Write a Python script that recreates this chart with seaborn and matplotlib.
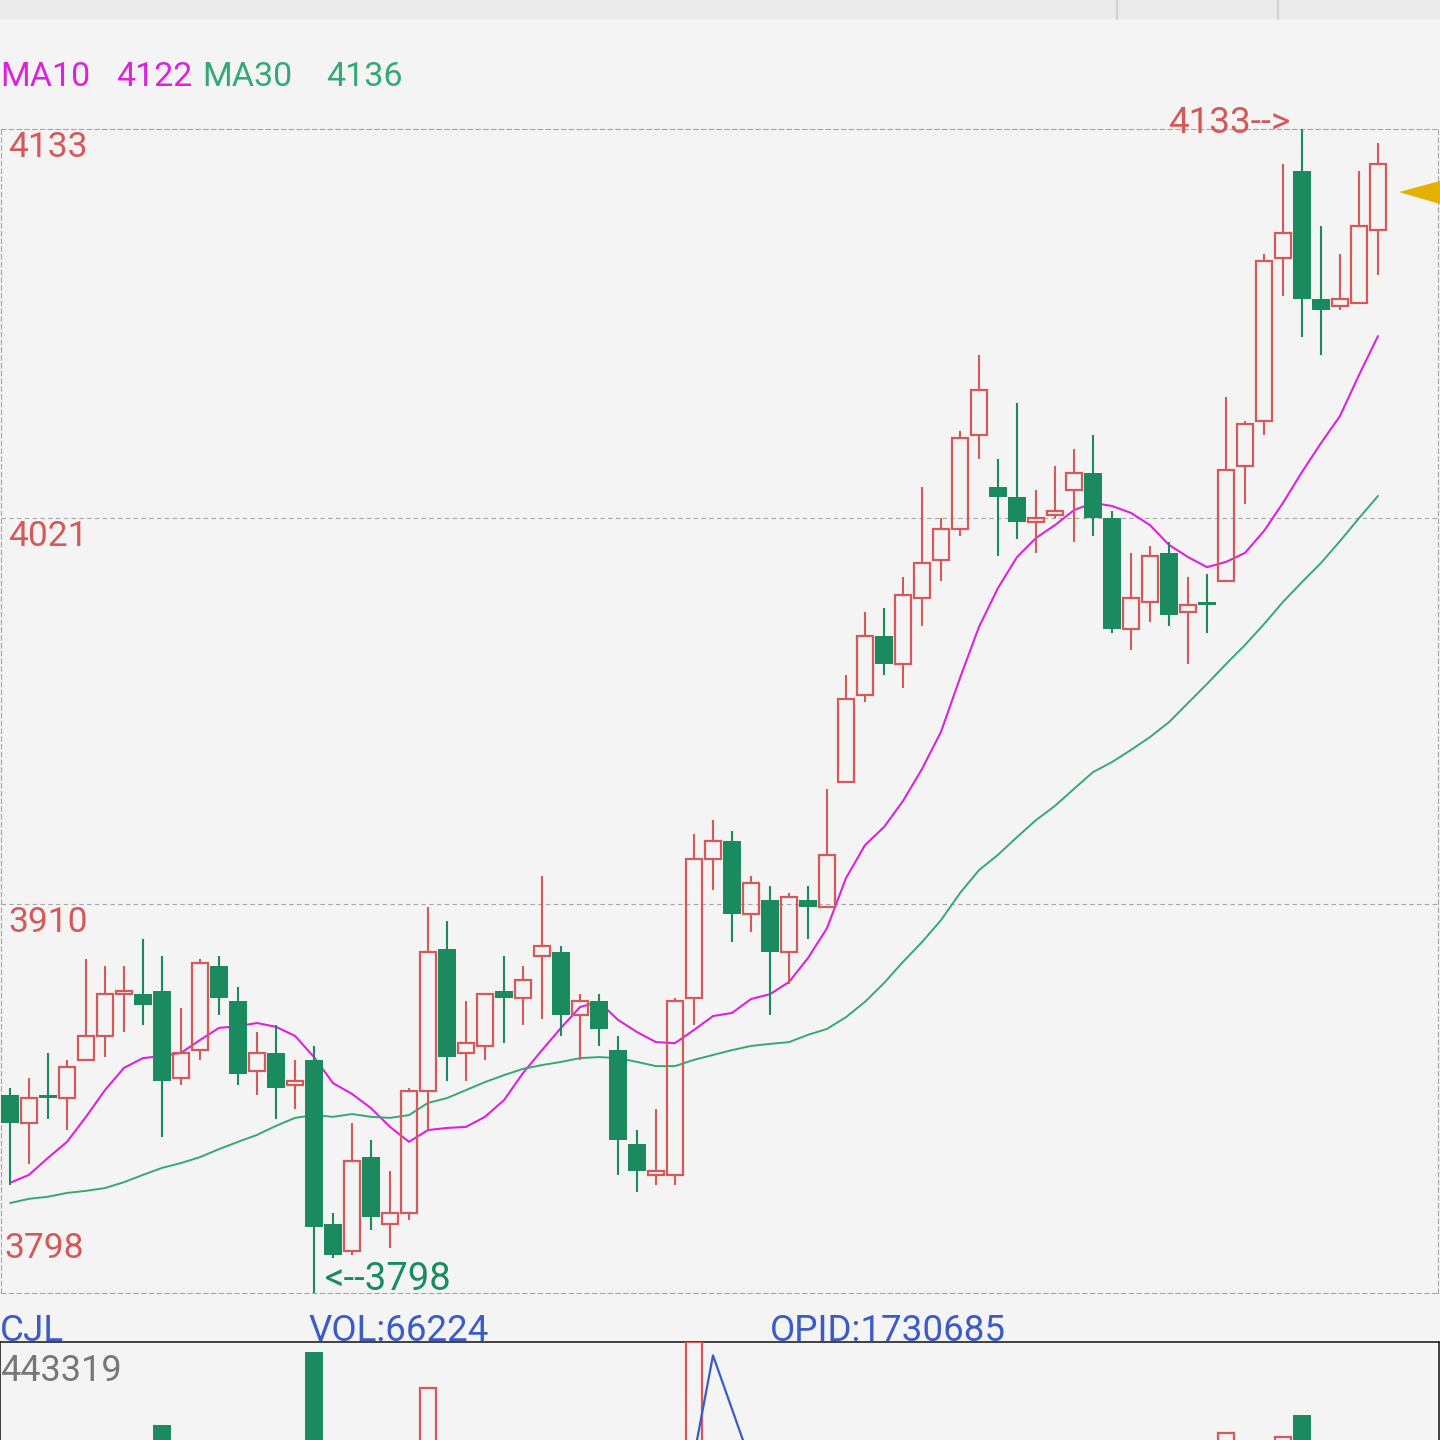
import numpy as np
import matplotlib
matplotlib.use("Agg")
import matplotlib.pyplot as plt
import seaborn as sns
from matplotlib.patches import Polygon, Rectangle
from matplotlib.lines import Line2D

# ---------------- data ----------------
opens = [3855, 3847, 3855, 3854, 3865, 3872, 3884, 3884, 3885, 3860,
         3868, 3892, 3882, 3862, 3867, 3858, 3865, 3818, 3810, 3837,
         3818, 3821, 3856, 3897, 3867, 3869, 3885, 3883, 3895, 3896,
         3878, 3882, 3868, 3841, 3832, 3832, 3883, 3923, 3928, 3907,
         3911, 3896, 3911, 3909, 3945, 3970, 3987, 3979, 3998, 4009,
         4018, 4045, 4030, 4027, 4020, 4022, 4029, 4034, 4021, 3989,
         3997, 4011, 3994, 3997, 4003, 4036, 4049, 4096, 4121, 4084,
         4082, 4083, 4104]
highs = [3857, 3860, 3867, 3865, 3894, 3892, 3892, 3900, 3895, 3880,
         3894, 3895, 3886, 3873, 3875, 3865, 3869, 3821, 3847, 3842,
         3833, 3857, 3909, 3905, 3882, 3884, 3895, 3892, 3918, 3898,
         3884, 3884, 3872, 3845, 3851, 3883, 3930, 3934, 3931, 3918,
         3915, 3913, 3915, 3943, 3976, 3994, 3995, 4004, 4030, 4021,
         4046, 4068, 4038, 4054, 4029, 4036, 4041, 4045, 4023, 4011,
         4013, 4014, 4004, 4005, 4056, 4049, 4097, 4123, 4133, 4105,
         4097, 4121, 4129]
lows = [3829, 3835, 3848, 3845, 3865, 3866, 3873, 3875, 3843, 3858,
        3865, 3878, 3858, 3855, 3848, 3851, 3798, 3808, 3809, 3816,
        3811, 3819, 3845, 3859, 3859, 3865, 3870, 3875, 3877, 3872,
        3865, 3869, 3832, 3827, 3829, 3829, 3875, 3914, 3899, 3902,
        3878, 3887, 3900, 3909, 3945, 3968, 3976, 3972, 3990, 4003,
        4016, 4038, 4010, 4015, 4011, 4021, 4014, 4016, 3988, 3983,
        3991, 3990, 3979, 3988, 4003, 4025, 4045, 4085, 4073, 4068,
        4081, 4083, 4091]
closes = [3847, 3854, 3854, 3863, 3872, 3884, 3885, 3881, 3859, 3867,
          3893, 3883, 3861, 3867, 3857, 3859, 3817, 3809, 3836, 3820,
          3821, 3856, 3896, 3866, 3870, 3884, 3883, 3888, 3898, 3878,
          3882, 3874, 3842, 3833, 3833, 3882, 3923, 3928, 3907, 3916,
          3896, 3912, 3909, 3924, 3969, 3987, 3979, 3999, 4008, 4018,
          4044, 4058, 4027, 4020, 4021, 4023, 4034, 4021, 3989, 3998,
          4010, 3993, 3996, 3996, 4035, 4048, 4095, 4103, 4084, 4081,
          4084, 4105, 4123]
ma10 = [3829.7, 3832.0, 3836.9, 3841.5, 3848.7, 3856.4, 3862.8, 3865.6, 3866.2, 3867.1,
        3870.8, 3874.3, 3874.8, 3875.7, 3874.6, 3872.0, 3865.9, 3858.4, 3855.3, 3851.2,
        3845.8, 3841.5, 3844.9, 3845.5, 3845.8, 3848.7, 3853.5, 3861.3, 3867.9, 3874.3,
        3880.3, 3881.8, 3876.6, 3873.1, 3870.2, 3869.9, 3873.7, 3877.7, 3878.6, 3882.6,
        3884.0, 3887.5, 3894.4, 3903.0, 3917.4, 3926.9, 3932.1, 3939.6, 3948.8, 3959.5,
        3975.0, 3989.7, 4000.9, 4009.8, 4015.3, 4019.0, 4023.3, 4025.4, 4024.5, 4022.5,
        4019.0, 4013.3, 4009.8, 4006.9, 4008.4, 4011.0, 4017.3, 4025.4, 4034.3, 4042.6,
        4050.4, 4062.2, 4073.4]
ma30 = [3823.9, 3825.1, 3825.7, 3826.8, 3827.4, 3828.2, 3829.9, 3832.0, 3834.0, 3835.4,
        3837.1, 3839.4, 3841.5, 3843.5, 3846.1, 3848.4, 3849.2, 3848.7, 3849.5, 3848.7,
        3848.4, 3849.2, 3852.7, 3854.1, 3856.4, 3858.7, 3860.7, 3862.5, 3863.6, 3864.5,
        3865.6, 3865.9, 3865.6, 3864.5, 3863.3, 3863.3, 3865.1, 3866.5, 3867.9, 3869.1,
        3869.7, 3870.2, 3872.3, 3874.0, 3877.4, 3881.8, 3887.2, 3893.3, 3899.0, 3905.3,
        3913.1, 3919.7, 3924.1, 3929.2, 3934.1, 3938.2, 3943.1, 3947.9, 3950.8, 3954.3,
        3958.0, 3962.3, 3967.8, 3973.3, 3979.0, 3984.5, 3990.5, 3996.9, 4002.6, 4008.1,
        4014.4, 4021.0, 4027.4]
volume = [180000, 150000, 120000, 160000, 210000, 230000, 170000, 190000, 320000, 200000,
          260000, 190000, 240000, 160000, 200000, 140000, 428000, 230000, 270000, 220000,
          180000, 250000, 375000, 280000, 170000, 190000, 160000, 150000, 210000, 200000,
          140000, 150000, 270000, 190000, 170000, 290000, 443319, 260000, 250000, 180000,
          210000, 190000, 140000, 230000, 280000, 240000, 180000, 220000, 230000, 190000,
          260000, 250000, 200000, 220000, 150000, 140000, 170000, 190000, 270000, 200000,
          190000, 210000, 170000, 150000, 308000, 240000, 290000, 302000, 335000, 230000,
          180000, 250000, 66224]
open_interest = [1702000, 1704500, 1706000, 1703000, 1708000, 1711000, 1712500, 1710000, 1715000, 1713000,
                 1716000, 1714500, 1717000, 1718500, 1716000, 1719000, 1722000, 1720500, 1719000, 1721500,
                 1723000, 1720000, 1718000, 1721000, 1722500, 1724000, 1722000, 1725000, 1726500, 1724000,
                 1722500, 1725000, 1727000, 1726000, 1724500, 1723500, 1723500, 1791000, 1755000, 1718800,
                 1720000, 1722000, 1721000, 1723500, 1725000, 1727500, 1726000, 1728500, 1730000, 1729000,
                 1731000, 1729500, 1728000, 1730500, 1732000, 1730000, 1728500, 1727000, 1729000, 1731500,
                 1730000, 1728000, 1729500, 1731000, 1732500, 1730000, 1728000, 1729000, 1731000, 1732000,
                 1730500, 1731500, 1730685]
price_ticks = [4133, 4021, 3910, 3798]
price_tick_labels = ["4133", "4021", "3910", "3798"]
legend_names = ["MA10", "MA30"]
legend_values = ["4122", "4136"]
indicator_name = "CJL"
vol_text = "VOL:66224"
oi_text = "OPID:1730685"
vol_max_text = "443319"

# ---------------- style ----------------
sns.set_theme(style="white")
plt.rcParams['font.family'] = ['Roboto', 'DejaVu Sans']

BG = "#f4f4f4"
RED = "#d45959"
GREEN = "#1b8b5f"
MAGENTA = "#dd22dd"
MA30C = "#35a875"
BLUE = "#3b5bc6"
GRID = "#a6a6a6"

W = H = 1440.0
fig = plt.figure(figsize=(14.4, 14.4), dpi=100, facecolor=BG)

def fx(px):
    return px / W

def fy(py):
    return 1 - py / H

# top strip
fig.patches.append(Rectangle((0, fy(19)), 1, 19 / H, transform=fig.transFigure,
                             facecolor="#eaeaea", edgecolor="none", zorder=0))
for vx in (1117, 1278):
    fig.lines.append(Line2D([fx(vx)] * 2, [1, fy(19)], transform=fig.transFigure,
                            color="#d2d2d2", lw=1.6))

o = np.array(opens, float); h = np.array(highs, float)
l = np.array(lows, float); c = np.array(closes, float)
n = len(o)
x = np.arange(n)
up = c >= o
dn = ~up

# ---------------- price panel ----------------
ax = fig.add_axes([fx(1), fy(1293), (1438 - 1) / W, (1293 - 129) / H])
ax.set_facecolor("none")
ax.set_xlim((1 - 10) / 19, (1438 - 10) / 19)
ax.set_ylim(l.min(), h.max())
ax.set_xticks([]); ax.set_yticks([])
for sp in ax.spines.values():
    sp.set_color(GRID); sp.set_linewidth(0.8); sp.set_linestyle((0, (4, 3)))
for t in price_ticks[1:-1]:
    ax.axhline(t, color=GRID, lw=0.8, ls=(0, (4, 3)), zorder=0)

# moving averages (behind candles)
sns.lineplot(x=x, y=ma10, ax=ax, color=MAGENTA, linewidth=1.5, estimator=None, zorder=2)
sns.lineplot(x=x, y=ma30, ax=ax, color=MA30C, linewidth=1.4, estimator=None, zorder=2)

# wicks
ax.vlines(x[dn], l[dn], h[dn], colors=GREEN, linewidth=1.5, zorder=3)
ax.vlines(x[up], c[up], h[up], colors=RED, linewidth=1.5, zorder=3)
ax.vlines(x[up], l[up], o[up], colors=RED, linewidth=1.5, zorder=3)
# bodies
ax.bar(x[up], np.maximum(c[up] - o[up], 0.8), bottom=o[up], width=0.86,
       facecolor="none", edgecolor=RED, linewidth=1.6, zorder=4)
ax.bar(x[dn], np.maximum(o[dn] - c[dn], 0.8), bottom=c[dn], width=0.93,
       color=GREEN, linewidth=0, zorder=4)

# axis value labels
for t, lab in zip(price_ticks, price_tick_labels):
    if t == price_ticks[-1]:
        off = (3, 35)
    else:
        off = (7, -28)
    ax.annotate(lab, xy=(0, t), xycoords=ax.get_yaxis_transform(), xytext=off,
                textcoords="offset pixels", ha="left", va="baseline",
                fontsize=25.5, color=RED, annotation_clip=False)

imax = int(np.argmax(h)); imin = int(np.argmin(l))
ax.annotate(f"{h[imax]:.0f}-->", xy=(imax, h[imax]), xytext=(-12, -4),
            textcoords="offset pixels", ha="right", va="baseline",
            fontsize=26.5, color=RED, annotation_clip=False)
ax.annotate(f"<--{l[imin]:.0f}", xy=(imin, l[imin]), xytext=(11, 3),
            textcoords="offset pixels", ha="left", va="baseline",
            fontsize=27.5, color=GREEN, annotation_clip=False)

# legend line
fs_leg = 24.5
fig.text(fx(0), fy(86), legend_names[0], fontsize=fs_leg, color=MAGENTA, va="baseline")
fig.text(fx(116), fy(86), legend_values[0], fontsize=fs_leg, color=MAGENTA, va="baseline")
fig.text(fx(202), fy(86), legend_names[1], fontsize=fs_leg, color=MA30C, va="baseline")
fig.text(fx(326), fy(86), legend_values[1], fontsize=fs_leg, color=MA30C, va="baseline")

# current price marker
fig.patches.append(Polygon([[fx(1399), fy(192)], [1, fy(181)], [1, fy(204)]],
                           closed=True, transform=fig.transFigure,
                           facecolor="#e6b000", edgecolor="none"))

# ---------------- volume panel ----------------
fs_bot = 26.5
fig.text(fx(0), fy(1341), indicator_name, fontsize=fs_bot, color=BLUE, va="baseline")
fig.text(fx(308), fy(1341), vol_text, fontsize=fs_bot, color=BLUE, va="baseline")
fig.text(fx(770), fy(1341), oi_text, fontsize=fs_bot, color=BLUE, va="baseline")

axv = fig.add_axes([0, fy(1640), 1439 / W, (1640 - 1342) / H])
axv.set_facecolor("none")
axv.set_xlim(-10 / 19, 1429 / 19)
v = np.array(volume, float)
axv.set_ylim(0, v.max())
axv.set_xticks([]); axv.set_yticks([])
for sp in axv.spines.values():
    sp.set_color("#222222"); sp.set_linewidth(1.2)
axv.bar(x[up], v[up], width=0.86, facecolor="none", edgecolor=RED, linewidth=1.6, zorder=3)
axv.bar(x[dn], v[dn], width=0.93, color=GREEN, linewidth=0, zorder=3)

axo = axv.twinx()
axo.set_xlim(axv.get_xlim())
axo.set_ylim(1600000, 1800000)
axo.set_yticks([])
for sp in axo.spines.values():
    sp.set_visible(False)
sns.lineplot(x=x, y=open_interest, ax=axo, color=BLUE, linewidth=1.6, estimator=None)
axo.set_xlabel(""); axo.set_ylabel("")

fig.text(fx(0), fy(1381), vol_max_text, fontsize=26, color="#777777", va="baseline")

fig.savefig("out.png", dpi=100, facecolor=BG)
